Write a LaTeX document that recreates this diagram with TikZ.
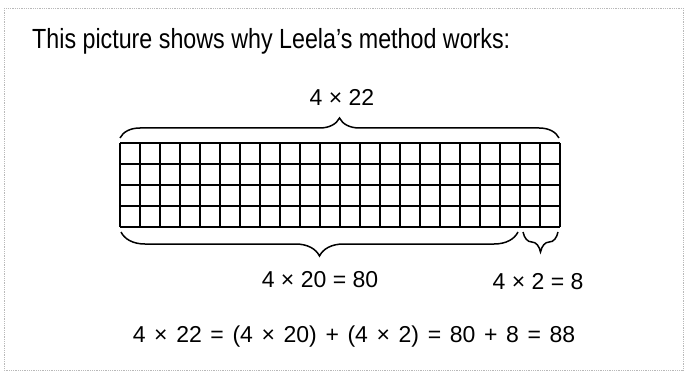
\documentclass[tikz,border=0pt]{standalone}
\usepackage{fontspec}
\setmainfont{Liberation Sans}
\newfontfamily\eqnfont[WordSpace=1.35]{Liberation Sans}
\newfontfamily\titlefont[FakeStretch=0.84]{Liberation Sans}
\usetikzlibrary{positioning,decorations.pathreplacing}

\begin{document}
\begin{tikzpicture}[x=1pt, y=-1pt,
    txt/.style={font=\fontsize{23}{27}\selectfont, inner sep=0pt},
    cell/.style={line width=1.2pt},
    curly/.style={line width=1.5pt, decorate, decoration={brace, amplitude=#1}}]
    \useasboundingbox (0,0) rectangle (687,382);

    % Scanned page frame
    \draw[gray!55, densely dotted, line width=0.8pt] (4,8) rectangle (683,370);

    % Title
    \node[inner sep=0pt, anchor=base west, font=\titlefont\fontsize{27.7}{32}\selectfont]
          (title) at (32,48.5) {This picture shows why Leela’s method works:};

    % Draw the 22 x 4 grid
    \foreach \i in {0,...,22} {
        \draw[cell] ({120+20*\i},143) -- ({120+20*\i},227);
    }
    \foreach \j in {0,...,4} {
        \draw[cell] (120,{143+21*\j}) -- (560,{143+21*\j});
    }

    % Brace ends
    \coordinate (topL) at (120,138);
    \coordinate (topR) at (559,138);
    \coordinate (lowL) at (121,232);
    \coordinate (lowM) at (518,232);
    \coordinate (twoL) at (523,232);
    \coordinate (twoR) at (558,232);

    % Draw braces
    \draw[curly=20pt] (topL) -- (topR);
    \draw[curly=24pt] (lowM) -- (lowL);
    \draw[curly=20pt] (twoR) -- (twoL);

    % Labels
    \node[txt] (total) at (342,97) {4 × 22};
    \node[txt] (twenty) at (320,280) {4 × 20 = 80};
    \node[txt] (two) at (538,282) {4 × 2 = 8};
    \node[txt, font=\eqnfont\fontsize{23}{27}\selectfont]
          (eqn) at (354,337) {4 × 22 = (4 × 20) + (4 × 2) = 80 + 8 = 88};
\end{tikzpicture}
\end{document}
